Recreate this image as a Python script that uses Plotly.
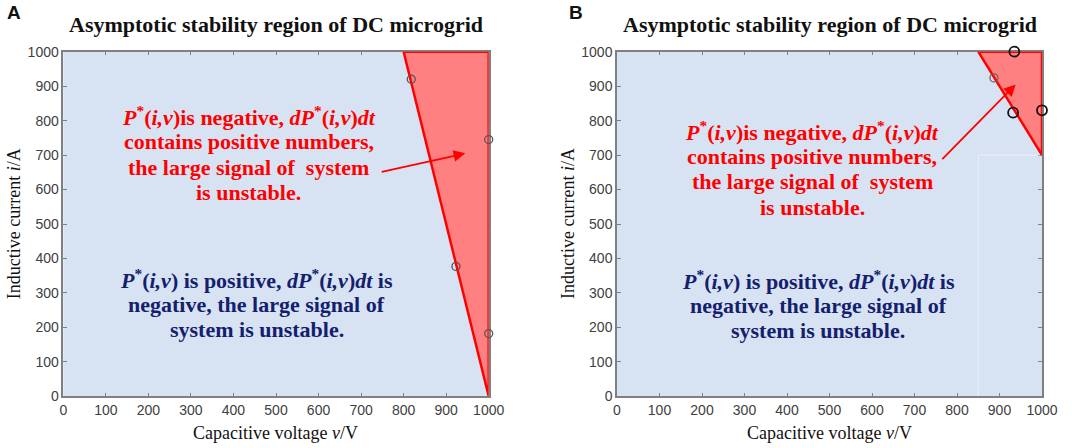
import plotly.graph_objects as go

# ---- data ----
# Unstable (red) region vertices, panel A and panel B  (v in V, i in A)
regionA_v = [800, 1000, 1000, 800]
regionA_i = [1000, 1000, 0, 1000]
regionB_v = [850, 1000, 1000, 850]
regionB_i = [1000, 1000, 700, 1000]
# faint boundary lines in panel B
faintB_v = [850, 850, 1000]
faintB_i = [0, 700, 700]
# circle markers
markA_v = [818, 1000, 923, 1000]
markA_i = [920, 745, 377, 182]
markB_grey_v = [887]
markB_grey_i = [924]
markB_v = [935, 932, 1000]
markB_i = [1000, 823, 830]
x_ticks = [0, 100, 200, 300, 400, 500, 600, 700, 800, 900, 1000]
y_ticks = [0, 100, 200, 300, 400, 500, 600, 700, 800, 900, 1000]

title_text = "Asymptotic stability region of DC microgrid"
red_lines = [
    "<b><i>P</i><sup>*</sup>(<i>i,v</i>)is negative, <i>dP</i><sup>*</sup>(<i>i,v</i>)<i>dt</i></b>",
    "<b>contains positive numbers,</b>",
    "<b>the large signal of  system</b>",
    "<b>is unstable.</b>",
]
blue_lines = [
    "<b><i>P</i><sup>*</sup>(<i>i,v</i>) is positive, <i>dP</i><sup>*</sup>(<i>i,v</i>)<i>dt</i> is</b>",
    "<b>negative, the large signal of</b>",
    "<b>system is unstable.</b>",
]

W, H = 1072, 448
xA = [63.3 / W, 488.7 / W]
xB = [617 / W, 1042 / W]
yD = [51.7 / H, 1 - 51.7 / H]

BG = "#d7e3f3"
RED = "#ff0000"
FILL = "#ff8080"
NAVY = "#14206e"
AXC = "#808080"
SERIF = "Liberation Serif"
SANS = "Liberation Sans"

fig = go.Figure()

fig.add_trace(go.Scatter(x=regionA_v, y=regionA_i, mode="lines", fill="toself",
                         fillcolor=FILL, line=dict(color=RED, width=2.5),
                         xaxis="x", yaxis="y", showlegend=False, hoverinfo="skip"))
fig.add_trace(go.Scatter(x=markA_v, y=markA_i, mode="markers",
                         marker=dict(symbol="circle-open", size=8, color="#555555",
                                     line=dict(width=1.3)),
                         cliponaxis=False, xaxis="x", yaxis="y", showlegend=False))

fig.add_trace(go.Scatter(x=faintB_v, y=faintB_i, mode="lines",
                         line=dict(color="rgba(255,255,255,0.45)", width=1),
                         xaxis="x2", yaxis="y2", showlegend=False, hoverinfo="skip"))
fig.add_trace(go.Scatter(x=regionB_v, y=regionB_i, mode="lines", fill="toself",
                         fillcolor=FILL, line=dict(color=RED, width=2.5),
                         xaxis="x2", yaxis="y2", showlegend=False, hoverinfo="skip"))
fig.add_trace(go.Scatter(x=markB_grey_v, y=markB_grey_i, mode="markers",
                         marker=dict(symbol="circle-open", size=8, color="#666666",
                                     line=dict(width=1.3)),
                         cliponaxis=False, xaxis="x2", yaxis="y2", showlegend=False))
fig.add_trace(go.Scatter(x=markB_v, y=markB_i, mode="markers",
                         marker=dict(symbol="circle-open", size=10, color="#111111",
                                     line=dict(width=1.8)),
                         cliponaxis=False, xaxis="x2", yaxis="y2", showlegend=False))

axis_common = dict(range=[0, 1000], showgrid=False, zeroline=False, showline=True,
                   linecolor=AXC, linewidth=1.5, mirror="ticks", ticks="inside",
                   ticklen=4, tickcolor=AXC, tickvals=x_ticks, automargin=False,
                   tickfont=dict(family=SANS, size=14, color="#404040"),
                   layer="below traces", fixedrange=True)

fig.update_layout(
    template="none",
    width=W, height=H,
    autosize=False,
    margin=dict(l=0, r=0, t=0, b=0, pad=0),
    paper_bgcolor="white",
    plot_bgcolor=BG,
    xaxis=dict(domain=xA, anchor="y", **axis_common),
    yaxis=dict(domain=yD, anchor="x", **axis_common),
    xaxis2=dict(domain=xB, anchor="y2", **axis_common),
    yaxis2=dict(domain=yD, anchor="x2", **axis_common),
)
fig.update_yaxes(tickvals=y_ticks)

ann = []
for xd, letter, lx in [(xA, "A", 5), (xB, "B", 567)]:
    cx = (xd[0] + xd[1]) / 2
    ann.append(dict(text="<b>" + title_text + "</b>", x=cx, y=1 - 25 / H, xref="paper", yref="paper",
                    xanchor="center", yanchor="middle",
                    showarrow=False, font=dict(family=SERIF, size=22, color="#111111")))
    ann.append(dict(text="<b>" + letter + "</b>", x=lx / W, y=1 - 13 / H, xref="paper", yref="paper",
                    xanchor="left", yanchor="middle", showarrow=False,
                    font=dict(family=SANS, size=19, color="#111111")))
    ann.append(dict(text="Capacitive voltage <i>v</i>/V", x=cx, y=1 - 433 / H, xref="paper", yref="paper",
                    xanchor="center", yanchor="middle",
                    showarrow=False, font=dict(family=SERIF, size=18, color="#111111")))
    ann.append(dict(text="Inductive current <i>i</i>/A", x=xd[0] - 49 / W, y=0.5, xref="paper", yref="paper",
                    xanchor="center", yanchor="middle",
                    textangle=-90, showarrow=False, font=dict(family=SERIF, size=18, color="#111111")))


def add_block(lines, xr, yr, xc, y0, dy, color):
    for k, t in enumerate(lines):
        ann.append(dict(text=t, x=xc, y=y0 - k * dy, xref=xr, yref=yr, showarrow=False,
                        xanchor="center", yanchor="middle",
                        font=dict(family=SERIF, size=22, color=color)))


# panel A texts
add_block(red_lines, "x", "y", 436, 812, 74, RED)
add_block(blue_lines, "x", "y", 455, 339, 73, NAVY)
ann.append(dict(text="", x=945, y=705, ax=745, ay=650, xref="x", yref="y", axref="x", ayref="y",
                showarrow=True, arrowhead=2, arrowsize=1.3, arrowwidth=1.8, arrowcolor=RED))
# panel B texts
add_block(red_lines, "x2", "y2", 459, 770, 74, RED)
add_block(blue_lines, "x2", "y2", 473, 337, 73, NAVY)
ann.append(dict(text="", x=938, y=905, ax=762, ay=684, xref="x2", yref="y2", axref="x2", ayref="y2",
                showarrow=True, arrowhead=2, arrowsize=1.3, arrowwidth=1.8, arrowcolor=RED))

fig.update_layout(annotations=ann)
fig.write_html("out.html", config={"displayModeBar": False},
               post_script="document.body.style.margin='0';")
